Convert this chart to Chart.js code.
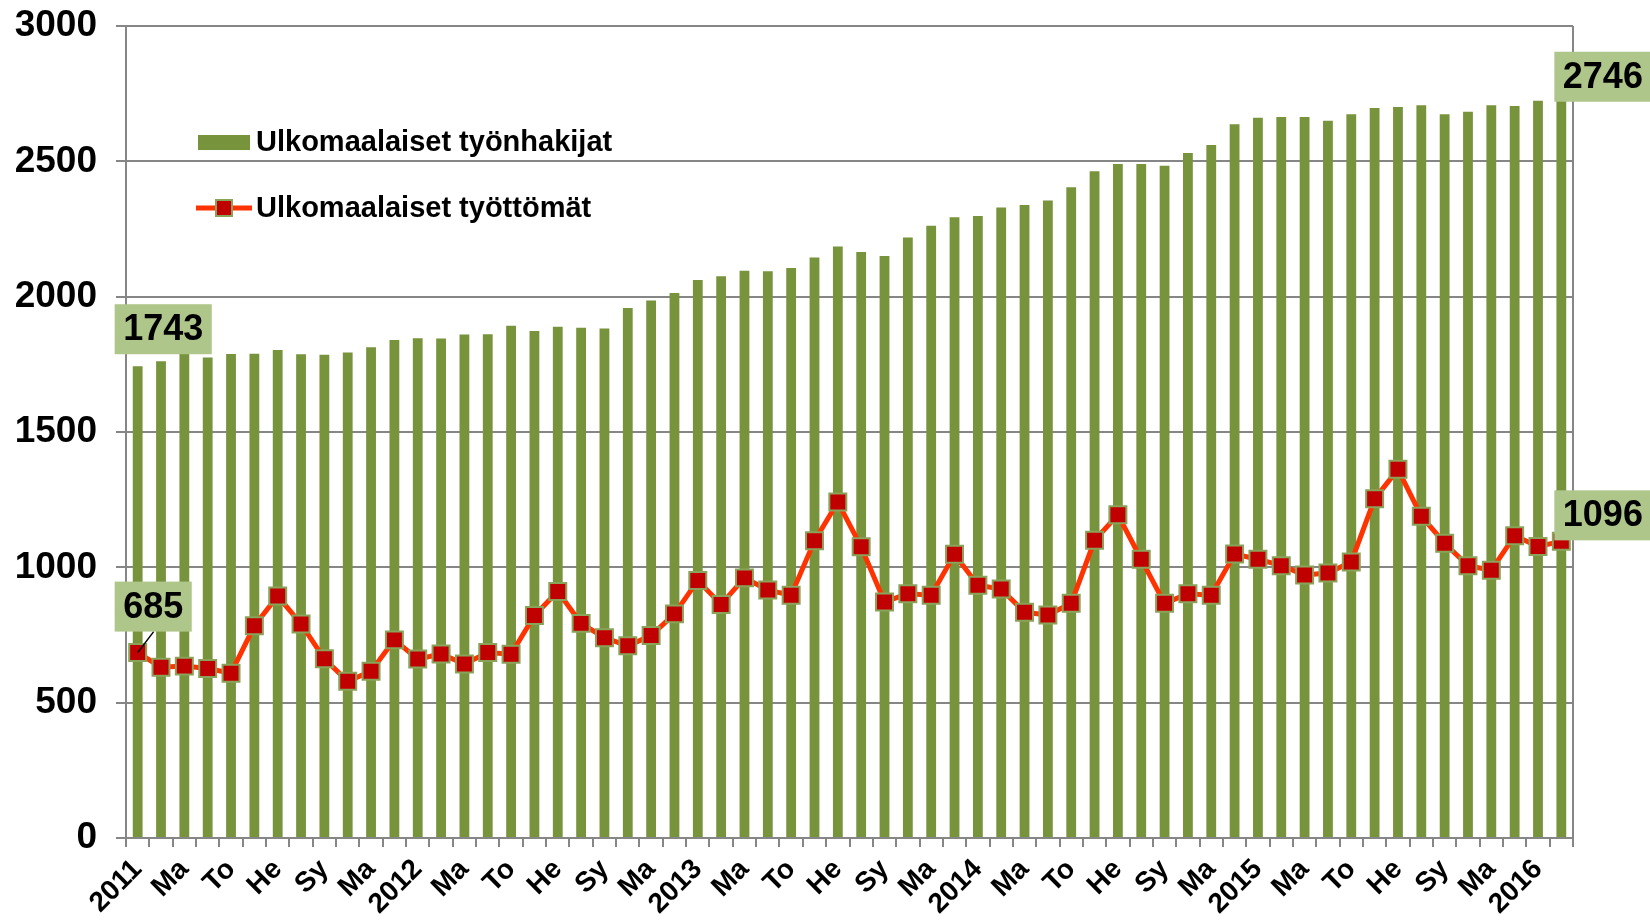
<!DOCTYPE html>
<html>
<head>
<meta charset="utf-8">
<script src="https://cdn.jsdelivr.net/npm/chart.js@4.4.1/dist/chart.umd.min.js"></script>
<style>
html, body { margin: 0; padding: 0; background: #ffffff; }
#chart { display: block; }
</style>
</head>
<body>
<canvas id="chart" width="1650" height="920"></canvas>
<script>
// Ulkomaalaiset työnhakijat ja työttömät, kuukausittain 1/2011 - 2/2016

const monthLabels = [
    '2011', '', 'Ma', '', 'To', '', 'He', '', 'Sy', '', 'Ma', '',
    '2012', '', 'Ma', '', 'To', '', 'He', '', 'Sy', '', 'Ma', '',
    '2013', '', 'Ma', '', 'To', '', 'He', '', 'Sy', '', 'Ma', '',
    '2014', '', 'Ma', '', 'To', '', 'He', '', 'Sy', '', 'Ma', '',
    '2015', '', 'Ma', '', 'To', '', 'He', '', 'Sy', '', 'Ma', '',
    '2016', ''
];

// Ulkomaalaiset työnhakijat (pylväät)
const jobSeekers = [
    1743, 1761, 1790, 1775, 1788, 1789, 1803, 1787, 1785, 1794, 1813, 1840,
    1846, 1845, 1860, 1861, 1893, 1873, 1889, 1885, 1882, 1958, 1986, 2014,
    2062, 2075, 2096, 2094, 2106, 2145, 2185, 2165, 2150, 2219, 2262, 2293,
    2298, 2329, 2339, 2355, 2404, 2463, 2490, 2490, 2484, 2531, 2560, 2637,
    2661, 2664, 2664, 2650, 2674, 2697, 2701, 2707, 2674, 2683, 2707, 2704,
    2724, 2746
];

// Ulkomaalaiset työttömät (viiva)
const unemployed = [
    685, 631, 635, 626, 609, 784, 894, 791, 662, 579, 616, 732,
    661, 680, 643, 685, 679, 822, 911, 793, 740, 710, 748, 828,
    951, 863, 961, 916, 897, 1098, 1241, 1076, 872, 902, 897, 1048,
    934, 920, 834, 824, 867, 1100, 1194, 1030, 867, 902, 897, 1049,
    1030, 1006, 972, 979, 1020, 1253, 1362, 1189, 1089, 1006, 989, 1117,
    1077, 1096
];

const seriesNames = ['Ulkomaalaiset työnhakijat', 'Ulkomaalaiset työttömät'];

const FONT = "'Liberation Sans', Arial, sans-serif";
const GREEN = '#77933c';
const LABEL_BG = '#afc68b';
const LINE_RED = '#ff3300';
const MARKER_RED = '#c00000';
const MARKER_EDGE = '#8aa35a';
const GRID = '#868686';

// Value boxes: first and last of each series
const callouts = [
    { ds: 0, idx: 0, dx: -23, dy: -62 },
    { ds: 0, idx: jobSeekers.length - 1, dx: -7, dy: -43 },
    { ds: 1, idx: 0, dx: -23, dy: -71, leader: true },
    { ds: 1, idx: unemployed.length - 1, dx: -7, dy: -51 }
];

const calloutPlugin = {
    id: 'callouts',
    afterDatasetsDraw(chart) {
        const ctx = chart.ctx;
        ctx.save();
        ctx.font = 'bold 36px ' + FONT;
        ctx.textBaseline = 'middle';
        callouts.forEach(c => {
            const el = chart.getDatasetMeta(c.ds).data[c.idx];
            const value = chart.data.datasets[c.ds].data[c.idx];
            const text = String(value);
            const w = ctx.measureText(text).width + 17;
            const h = 50;
            const left = el.x + c.dx;
            const top = el.y + c.dy;
            if (c.leader) {
                ctx.strokeStyle = '#000000';
                ctx.lineWidth = 1.5;
                ctx.beginPath();
                ctx.moveTo(left + 39, top + h);
                ctx.lineTo(el.x, el.y);
                ctx.stroke();
            }
            ctx.fillStyle = LABEL_BG;
            ctx.fillRect(left, top, w, h);
            ctx.fillStyle = '#000000';
            ctx.textAlign = 'left';
            ctx.fillText(text, left + 8.5, top + h / 2 + 1);
        });
        ctx.restore();
    }
};

// Legend in the upper left of the plot area, Excel style
const legendPlugin = {
    id: 'insideLegend',
    afterDraw(chart) {
        const ctx = chart.ctx;
        const area = chart.chartArea;
        const x0 = area.left + 72;
        const y1 = area.top + 116;
        const y2 = area.top + 182;
        ctx.save();
        ctx.fillStyle = GREEN;
        ctx.fillRect(x0, y1 - 7, 52, 15);

        ctx.strokeStyle = LINE_RED;
        ctx.lineWidth = 5;
        ctx.beginPath();
        ctx.moveTo(x0 - 2, y2);
        ctx.lineTo(x0 + 54, y2);
        ctx.stroke();
        ctx.fillStyle = MARKER_RED;
        ctx.strokeStyle = MARKER_EDGE;
        ctx.lineWidth = 2;
        ctx.fillRect(x0 + 18, y2 - 8, 16, 16);
        ctx.strokeRect(x0 + 18, y2 - 8, 16, 16);

        ctx.fillStyle = '#000000';
        ctx.font = 'bold 29px ' + FONT;
        ctx.textAlign = 'left';
        ctx.textBaseline = 'middle';
        ctx.fillText(seriesNames[0], x0 + 58, y1 + 1);
        ctx.fillText(seriesNames[1], x0 + 58, y2 + 1);
        ctx.restore();
    }
};

// Right edge of the plot area
const framePlugin = {
    id: 'frameRight',
    afterDatasetsDraw(chart) {
        const ctx = chart.ctx;
        const area = chart.chartArea;
        ctx.save();
        ctx.strokeStyle = GRID;
        ctx.lineWidth = 2;
        ctx.beginPath();
        ctx.moveTo(area.right, area.top);
        ctx.lineTo(area.right, area.bottom);
        ctx.stroke();
        ctx.restore();
    }
};

new Chart(document.getElementById('chart'), {
    data: {
        labels: monthLabels,
        datasets: [
            {
                type: 'bar',
                label: seriesNames[0],
                data: jobSeekers,
                backgroundColor: GREEN,
                borderWidth: 0,
                categoryPercentage: 1.0,
                barPercentage: 0.42,
                order: 2
            },
            {
                type: 'line',
                label: seriesNames[1],
                data: unemployed,
                borderColor: LINE_RED,
                borderWidth: 5,
                pointStyle: 'rect',
                pointRadius: 12,
                pointBackgroundColor: MARKER_RED,
                pointBorderColor: MARKER_EDGE,
                pointBorderWidth: 2,
                tension: 0,
                order: 1
            }
        ]
    },
    options: {
        responsive: false,
        animation: false,
        layout: {
            padding: { left: 0, right: 77, top: 26, bottom: 0 }
        },
        plugins: {
            legend: { display: false },
            tooltip: { enabled: false }
        },
        scales: {
            x: {
                offset: true,
                grid: {
                    display: true,
                    offset: true,
                    drawOnChartArea: false,
                    drawTicks: true,
                    tickLength: 9,
                    color: GRID,
                    lineWidth: 2
                },
                border: { display: true, color: GRID, width: 2 },
                ticks: {
                    autoSkip: false,
                    maxRotation: 45,
                    minRotation: 45,
                    padding: 6,
                    color: '#000000',
                    font: { family: FONT, size: 28, weight: 'bold' }
                },
                afterFit(scale) { scale.height = 82; }
            },
            y: {
                min: 0,
                max: 3000,
                ticks: {
                    stepSize: 500,
                    padding: 19,
                    color: '#000000',
                    font: { family: FONT, size: 37, weight: 'bold' },
                    callback: (value) => String(value)
                },
                grid: {
                    color: GRID,
                    lineWidth: 2,
                    drawTicks: true,
                    tickLength: 10
                },
                border: { display: true, color: GRID, width: 2 },
                afterFit(scale) {
                    scale.width = 126;
                    scale.paddingTop = 0;
                    scale.paddingBottom = 0;
                }
            }
        }
    },
    plugins: [framePlugin, calloutPlugin, legendPlugin]
});
</script>
</body>
</html>
